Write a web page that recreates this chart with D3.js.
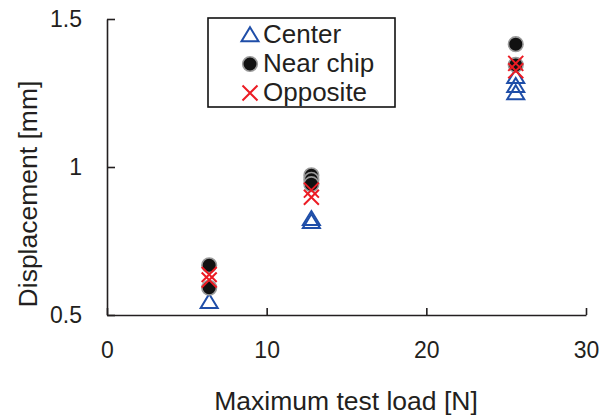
<!DOCTYPE html>
<html><head><meta charset="utf-8">
<script src="https://cdn.jsdelivr.net/npm/d3@7"></script>
<style>body{margin:0;background:#fff}svg{display:block}text{font-family:"Liberation Sans",Arial,sans-serif;fill:#231f20}</style>
</head><body><svg id="c" width="611" height="417"></svg>
<script>
const xTicks = [0, 10, 20, 30];
const yTicks = [0.5, 1, 1.5];
const seriesNames = ["Center", "Near chip", "Opposite"];
const centerX = [6.4, 12.8, 12.8, 25.6, 25.6, 25.6];
const centerY = [0.545, 0.825, 0.815, 1.25, 1.275, 1.305];
const nearX = [6.4, 6.4, 12.8, 12.8, 12.8, 25.6, 25.6];
const nearY = [0.668, 0.592, 0.972, 0.957, 0.942, 1.415, 1.345];
const oppX = [6.4, 6.4, 12.8, 12.8, 25.6, 25.6];
const oppY = [0.637, 0.618, 0.922, 0.898, 1.35, 1.325];

const svg = d3.select("#c");
const x = d3.scaleLinear().domain([0, 30]).range([107, 586]);
const y = d3.scaleLinear().domain([0.5, 1.5]).range([315, 19]);
const axisCol = "#231f20";

const xa = svg.append("g").attr("transform", "translate(0,315)")
  .call(d3.axisBottom(x).tickValues(xTicks).tickSizeInner(-7).tickSizeOuter(0).tickPadding(27).tickFormat(d3.format("d")));
const ya = svg.append("g").attr("transform", "translate(107,0)")
  .call(d3.axisLeft(y).tickValues(yTicks).tickSizeInner(-8).tickSizeOuter(0).tickPadding(25).tickFormat(d => d === 1 ? "1" : d3.format(".1f")(d)));
[xa, ya].forEach(a => {
  a.select(".domain").attr("stroke", axisCol).attr("stroke-width", 1.6);
  a.selectAll(".tick line").attr("stroke", axisCol).attr("stroke-width", 1.6);
  a.selectAll(".tick text").attr("font-size", 23).attr("fill", axisCol);
});

svg.append("text").attr("x", 346).attr("y", 410).attr("text-anchor", "middle").attr("font-size", 26.5).text("Maximum test load [N]");
svg.append("text").attr("transform", "translate(37,194) rotate(-90)").attr("text-anchor", "middle").attr("font-size", 26.5).text("Displacement [mm]");

function drawTri(g, cx, cy) {
  const w = 8.5, h = 14;
  g.append("path").attr("d", `M${cx},${cy - h * 0.55}L${cx + w},${cy + h * 0.45}L${cx - w},${cy + h * 0.45}Z`)
    .attr("fill", "none").attr("stroke", "#1f4ea8").attr("stroke-width", 2).attr("stroke-linejoin", "miter");
}
function drawCirc(g, cx, cy) {
  g.append("circle").attr("cx", cx).attr("cy", cy).attr("r", 7.3)
    .attr("fill", "#111").attr("stroke", "#9a9a9a").attr("stroke-width", 1.6);
}
function drawCross(g, cx, cy) {
  const s = 7.5;
  g.append("path").attr("d", `M${cx - s},${cy - s}L${cx + s},${cy + s}M${cx - s},${cy + s}L${cx + s},${cy - s}`)
    .attr("stroke", "#ec1c24").attr("stroke-width", 2).attr("fill", "none");
}

const plot = svg.append("g");
centerX.forEach((v, i) => drawTri(plot, x(v), y(centerY[i])));
nearX.forEach((v, i) => drawCirc(plot, x(v), y(nearY[i])));
oppX.forEach((v, i) => drawCross(plot, x(v), y(oppY[i])));

// legend
const lg = svg.append("g");
lg.append("rect").attr("x", 208).attr("y", 18).attr("width", 187).attr("height", 89)
  .attr("fill", "#fff").attr("stroke", "#111").attr("stroke-width", 1.6);
const drawers = [drawTri, drawCirc, drawCross];
seriesNames.forEach((n, i) => {
  const cy = 35 + i * 29;
  drawers[i](lg, 250, cy);
  lg.append("text").attr("x", 263).attr("y", cy + 7.5).attr("font-size", 26).text(n);
});
</script></body></html>
